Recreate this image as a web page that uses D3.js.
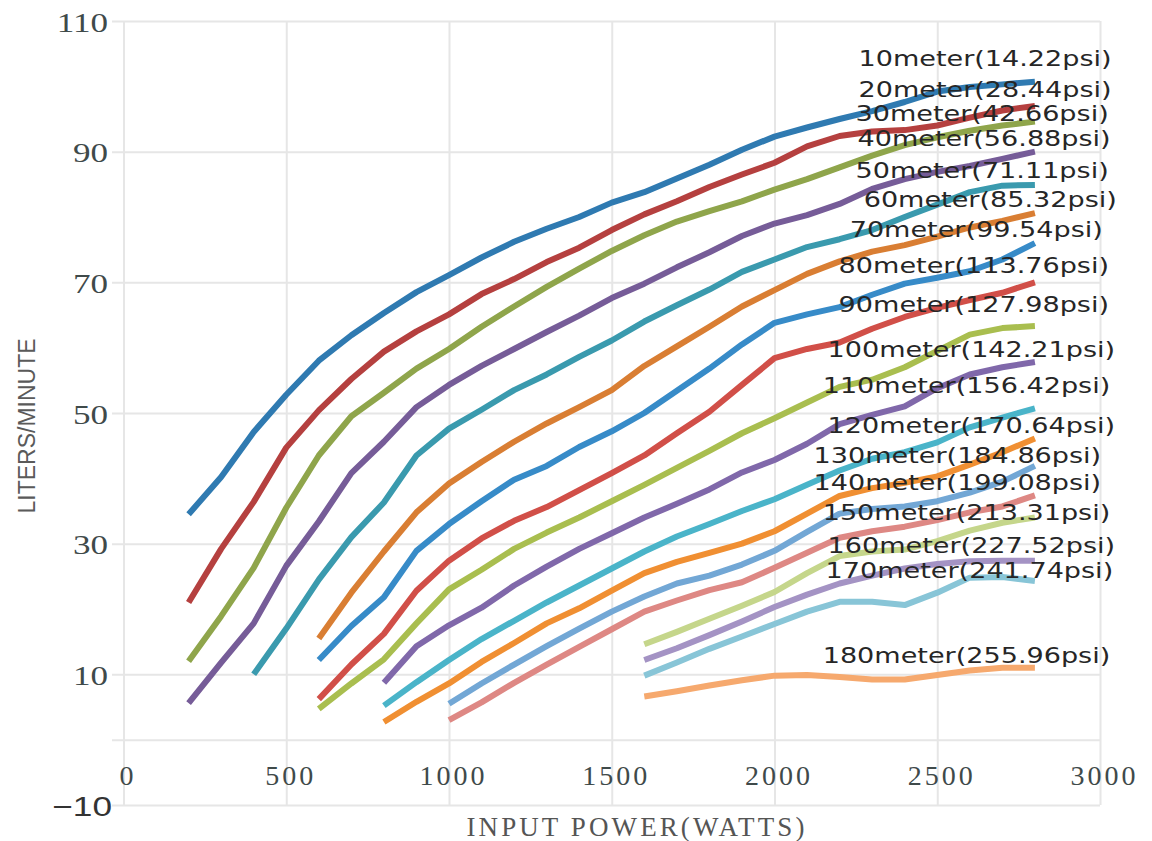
<!DOCTYPE html>
<html><head><meta charset="utf-8">
<script src="https://cdn.jsdelivr.net/npm/d3@7"></script>
<style>body{margin:0;background:#fff}</style>
</head><body>
<svg id="c" width="1152" height="841"></svg>
<script>
// ---- data ----
const watts = [200,300,400,500,600,700,800,900,1000,1100,1200,1300,1400,1500,1600,1700,1800,1900,2000,2100,2200,2300,2400,2500,2600,2700,2800];

const seriesNames = ["10meter(14.22psi)","20meter(28.44psi)","30meter(42.66psi)","40meter(56.88psi)","50meter(71.11psi)","60meter(85.32psi)","70meter(99.54psi)","80meter(113.76psi)","90meter(127.98psi)","100meter(142.21psi)","110meter(156.42psi)","120meter(170.64psi)","130meter(184.86psi)","140meter(199.08psi)","150meter(213.31psi)","160meter(227.52psi)","170meter(241.74psi)","180meter(255.96psi)"];

const seriesColors = ["#2f7ab1","#b5403f","#8fa54b","#765c98","#3a9aae","#d97e33","#378bc8","#d14f48","#a9be4f","#8068aa","#4ab4c9","#f08f32","#72a7d5","#de8884","#c5d68b","#a493c4","#88c5d7","#f6a96e"];

// values end at 2800 W; each starts at the first reading shown
const m10  = [34.5,40.2,47.1,52.8,58.0,61.9,65.3,68.5,71.1,73.8,76.2,78.2,80.0,82.2,83.8,85.9,88.0,90.3,92.3,93.7,95.0,96.2,97.6,99.2,99.9,100.3,100.7];
const m20  = [21.0,29.2,36.4,44.7,50.4,55.2,59.4,62.5,65.1,68.2,70.5,73.1,75.3,78.0,80.4,82.4,84.6,86.5,88.3,90.8,92.4,93.1,93.3,94.0,95.2,96.3,97.0];
const m30  = [12.0,18.9,26.3,35.5,43.5,49.5,53.1,56.8,59.8,63.2,66.3,69.3,72.1,74.8,77.2,79.3,80.9,82.4,84.2,85.8,87.6,89.4,91.0,92.2,93.2,94.0,94.6];
const m40  = [5.6,11.8,17.8,26.6,33.4,40.8,45.6,50.9,54.3,57.2,59.8,62.4,64.9,67.6,69.8,72.3,74.6,77.1,79.0,80.3,82.0,84.3,85.8,86.9,87.8,88.9,90.0];
const m50  = [10.0,17.0,24.5,31.0,36.3,43.5,47.6,50.5,53.5,55.9,58.6,61.1,64.0,66.5,68.9,71.6,73.5,75.4,76.6,78.0,80.0,81.9,83.8,84.8,84.9];
const m60  = [15.5,22.5,28.8,34.8,39.2,42.5,45.6,48.4,50.9,53.5,57.2,60.2,63.2,66.3,68.8,71.3,73.2,74.7,75.7,77.0,78.4,79.4,80.6];
const m70  = [12.2,17.4,21.8,28.9,33.0,36.5,39.8,41.9,44.8,47.2,50.0,53.4,56.8,60.5,63.8,65.1,66.2,68.1,69.8,70.7,71.7,73.5,76.0];
const m80  = [6.2,11.5,16.2,22.8,27.4,30.8,33.5,35.6,38.2,40.8,43.5,46.9,50.2,54.3,58.4,59.8,60.8,62.9,64.7,66.1,67.3,68.4,70.0];
const m90  = [4.7,8.6,12.3,17.8,23.0,26.0,29.2,31.7,34.0,36.5,39.0,41.6,44.2,46.9,49.2,51.6,54.0,55.1,57.0,59.5,62.0,63.0,63.3];
const m100 = [8.7,14.3,17.5,20.2,23.6,26.5,29.2,31.6,34.0,36.1,38.3,40.9,42.8,45.3,48.3,49.7,51.0,53.8,55.9,57.0,57.8];
const m110 = [5.2,8.8,12.2,15.4,18.2,21.0,23.6,26.2,28.8,31.1,33.0,35.0,36.8,39.0,41.2,43.0,44.0,45.5,47.8,49.3,50.7];
const m120 = [2.7,5.8,8.6,11.9,14.8,17.8,20.1,22.8,25.5,27.2,28.6,30.0,31.9,34.6,37.3,38.5,39.3,40.3,42.1,44.0,46.1];
const m130 = [5.5,8.6,11.5,14.3,17.0,19.6,21.9,23.9,25.1,26.8,28.9,31.8,34.6,35.3,35.7,36.5,37.8,39.5,41.9];
const m140 = [3.0,5.7,8.7,11.5,14.2,16.9,19.6,21.3,22.9,24.1,26.3,28.6,30.9,31.9,32.6,33.6,34.8,35.7,37.4];
const m150 = [14.6,16.5,18.5,20.5,22.6,25.5,28.1,28.8,29.1,30.4,32.0,33.2,34.0];
const m160 = [12.2,14.0,16.0,18.1,20.3,22.2,23.9,25.1,26.2,26.9,27.3,27.4,27.4];
const m170 = [9.8,11.8,13.9,15.8,17.7,19.6,21.1,21.1,20.6,22.5,24.8,24.9,24.3];
const m180 = [6.6,7.4,8.3,9.1,9.8,9.9,9.6,9.2,9.2,9.9,10.6,11.0,11.0];

const seriesValues = [m10,m20,m30,m40,m50,m60,m70,m80,m90,m100,m110,m120,m130,m140,m150,m160,m170,m180];

// label anchors in data units (watts, liters/minute)
const labelWatts = [2258,2258,2249,2255,2249,2274,2231,2197,2197,2163,2148,2163,2120,2120,2148,2163,2157,2148];
const labelFlow  = [103.1,98.4,94.7,90.8,86.0,81.6,77.0,71.5,65.5,58.6,53.1,46.9,42.3,38.2,33.6,28.6,24.7,11.7];

const xTicks = [0,500,1000,1500,2000,2500,3000];
const yTicks = [110,90,70,50,30,10,0,-10];
const yTickLabels = ["110","90","70","50","30","10","","\u221210"];

// ---- chart ----
const svg = d3.select('#c');
const x = d3.scaleLinear().domain([0,3000]).range([123.5,1100]);
const y = d3.scaleLinear().domain([-10,110]).range([805,21]);

const grid = '#e6e6e6';

// y axis + horizontal grid
const gy = svg.append('g').attr('transform','translate(112,0)')
  .call(d3.axisLeft(y).tickValues(yTicks).tickSize(-(1100-112)).tickPadding(4)
        .tickFormat((d,i)=>yTickLabels[i]));
gy.select('.domain').remove();
gy.selectAll('.tick line').attr('stroke',grid).attr('stroke-width',2);
gy.selectAll('.tick text')
  .attr('x',0).attr('dy',0)
  .attr('transform','translate(-4,10) scale(1.3,1)')
  .attr('fill','#3f4a4a')
  .style('font-family','"Liberation Serif", serif')
  .style('font-size','27px');
gy.selectAll('.tick text').filter(d=>d===-10)
  .attr('transform','translate(0,10) scale(1.26,1)')
  .attr('fill','#333')
  .style('font-family','"Liberation Sans", Arial, sans-serif')
  .style('font-size','28px');

// x axis + vertical grid
const gx = svg.append('g').attr('transform','translate(0,805)')
  .call(d3.axisBottom(x).tickValues(xTicks).tickSize(-(805-21)).tickFormat(d3.format('d')));
gx.select('.domain').remove();
gx.selectAll('.tick line').attr('stroke',grid).attr('stroke-width',2);
gx.selectAll('.tick text')
  .attr('y',-20).attr('dy',0).attr('x',4)
  .attr('fill','#3f4a4a')
  .style('font-family','"Liberation Serif", serif')
  .style('font-size','28px')
  .style('letter-spacing','3px');

// axis titles
svg.append('text')
  .attr('x',637).attr('y',836).attr('text-anchor','middle')
  .attr('fill','#555')
  .style('font-family','"Liberation Serif", serif')
  .style('font-size','27px')
  .style('letter-spacing','3.1px')
  .text('INPUT POWER(WATTS)');

svg.append('text')
  .attr('transform','translate(35,426) rotate(-90)')
  .attr('text-anchor','middle')
  .attr('fill','#5a5a5a')
  .style('font-family','"Liberation Sans", Arial, sans-serif')
  .style('font-size','23px')
  .text('LITERS/MINUTE');

// lines
const line = d3.line().x(d=>x(d[0])).y(d=>y(d[1]));
seriesValues.forEach((vals,i)=>{
  const off = watts.length - vals.length;
  const pts = vals.map((v,j)=>[watts[off+j], v]);
  svg.append('path').datum(pts)
    .attr('d',line)
    .attr('fill','none')
    .attr('stroke',seriesColors[i])
    .attr('stroke-width',6)
    .attr('stroke-linejoin','round');
});

// series labels
seriesNames.forEach((name,i)=>{
  svg.append('text')
    .attr('transform',`translate(${x(labelWatts[i])},${y(labelFlow[i])}) scale(1.23,1)`)
    .attr('fill','#262626')
    .style('font-family','"DejaVu Sans", sans-serif')
    .style('font-size','22px')
    .text(name);
});
</script>
</body></html>
